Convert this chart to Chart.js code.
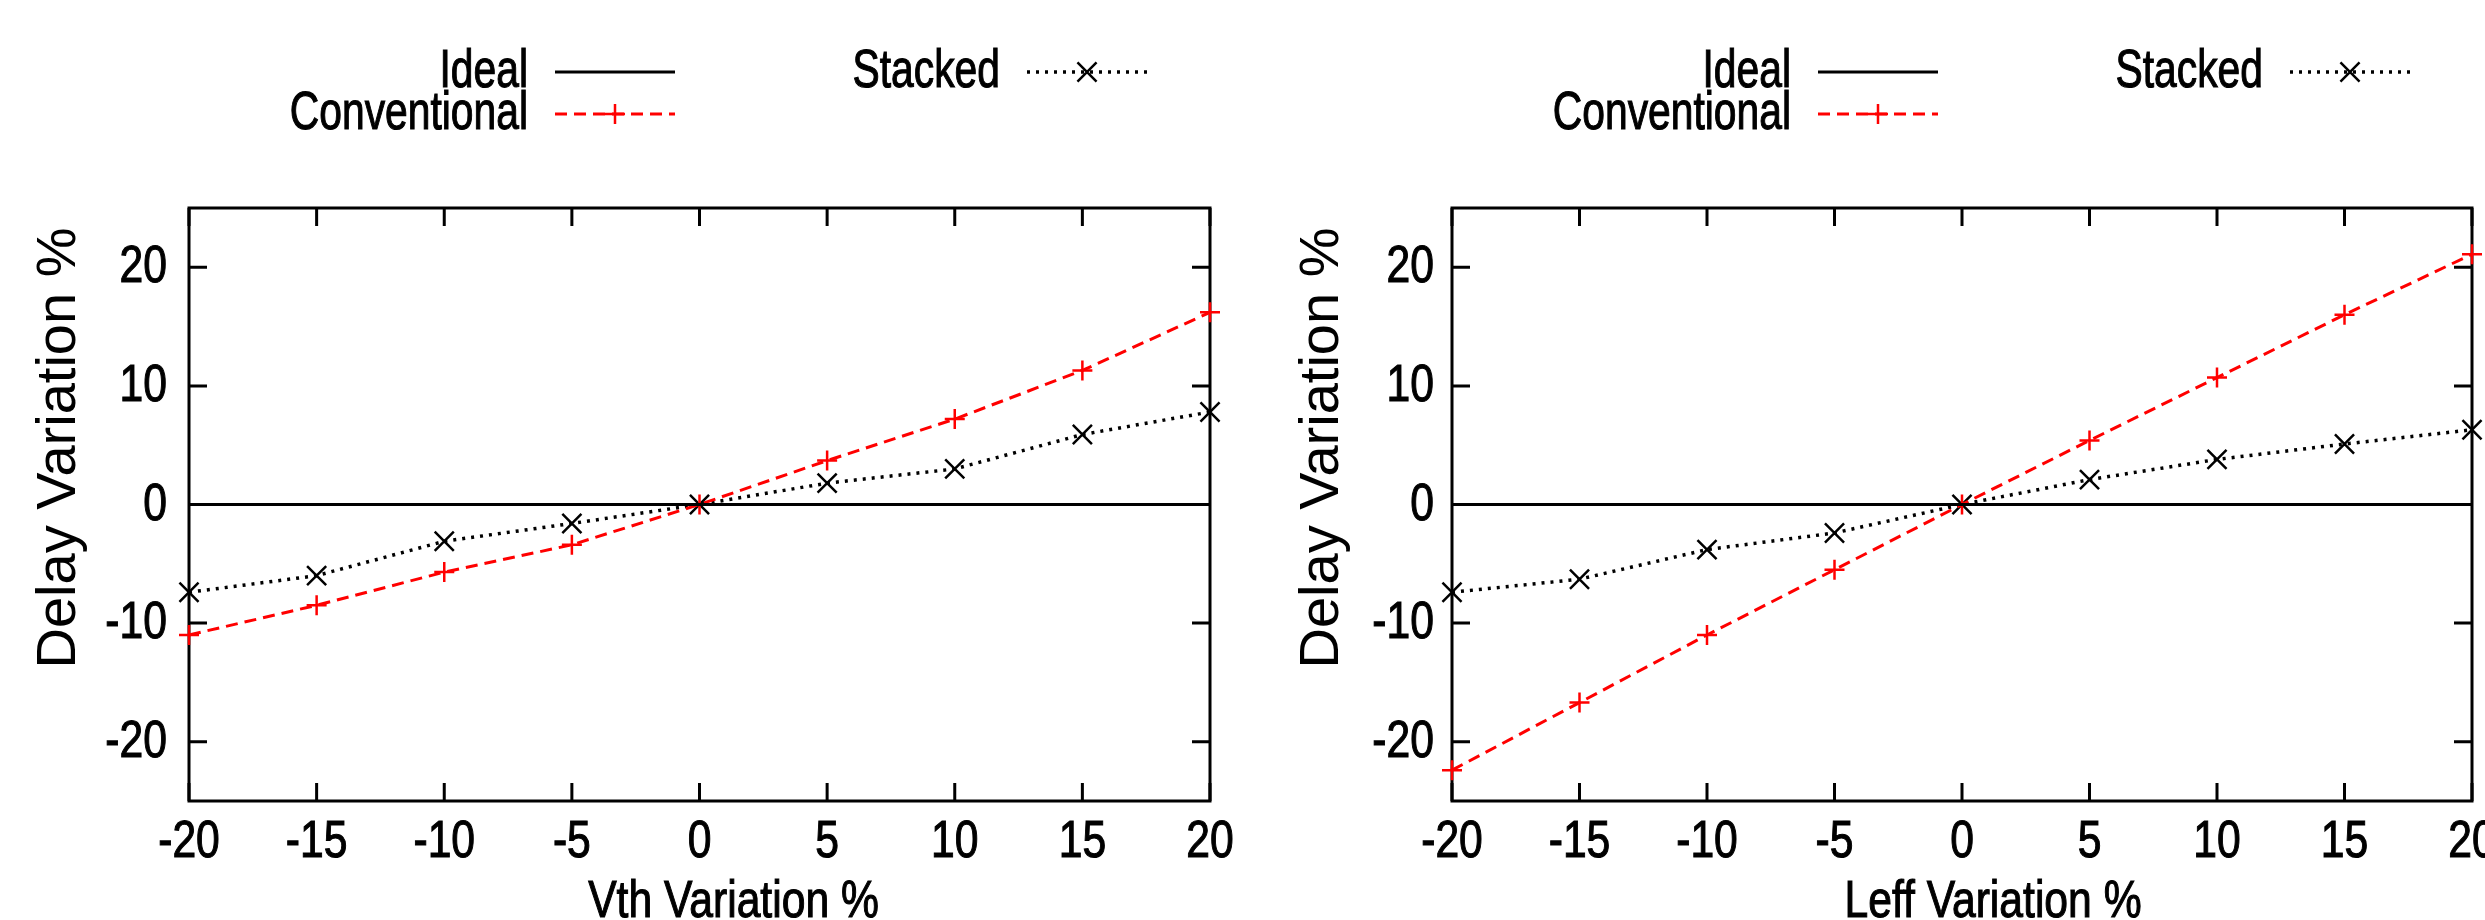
<!DOCTYPE html>
<html>
<head>
<meta charset="utf-8">
<script src="https://cdn.jsdelivr.net/npm/chart.js@4.4.1/dist/chart.umd.min.js"></script>
<style>
html, body { margin: 0; padding: 0; background: #fff; overflow: hidden; }
.panel { position: absolute; top: 0; height: 920px; }
#leftPanel { left: 0; width: 1242px; }
#rightPanel { left: 1242px; width: 1243px; }
</style>
</head>
<body>
<div class="panel" id="leftPanel"><canvas id="vthChart"></canvas></div>
<div class="panel" id="rightPanel"><canvas id="leffChart"></canvas></div>
<script>
// data
const variation = [-20, -15, -10, -5, 0, 5, 10, 15, 20];
const xTicks = [-20, -15, -10, -5, 0, 5, 10, 15, 20];
const yTicks = [-20, -10, 0, 10, 20];
const ideal = [0, 0, 0, 0, 0, 0, 0, 0, 0];
const vthConventional = [-11.0, -8.5, -5.7, -3.4, 0, 3.7, 7.2, 11.3, 16.2];
const vthStacked = [-7.4, -6.0, -3.1, -1.6, 0, 1.8, 3.0, 5.9, 7.8];
const leffConventional = [-22.4, -16.7, -11.0, -5.5, 0, 5.4, 10.7, 16.0, 21.1];
const leffStacked = [-7.4, -6.3, -3.8, -2.4, 0, 2.1, 3.8, 5.1, 6.3];
const seriesNames = ['Ideal', 'Conventional', 'Stacked'];

const FONT = "'Liberation Sans', Arial, Helvetica, sans-serif";

function pts(ys) {
    return variation.map((x, i) => ({ x: x, y: ys[i] }));
}

// gnuplot used a condensed helvetica, so squeeze the text sideways
function squeezed(ctx, text, x, y, size, k, align) {
    ctx.save();
    ctx.font = size + 'px ' + FONT;
    ctx.textAlign = align;
    ctx.textBaseline = 'alphabetic';
    ctx.translate(x, y);
    ctx.scale(k, 1);
    ctx.fillText(text, 0, 0);
    ctx.strokeStyle = ctx.fillStyle;
    ctx.lineWidth = 1.1;
    ctx.strokeText(text, 0, 0);
    ctx.restore();
}

function drawMarker(ctx, style, x, y, r) {
    ctx.beginPath();
    if (style === 'cross') {
        ctx.moveTo(x - r, y); ctx.lineTo(x + r, y);
        ctx.moveTo(x, y - r); ctx.lineTo(x, y + r);
    } else {
        const d = r * Math.SQRT1_2;
        ctx.moveTo(x - d, y - d); ctx.lineTo(x + d, y + d);
        ctx.moveTo(x - d, y + d); ctx.lineTo(x + d, y - d);
    }
    ctx.stroke();
}

const gnuplotLook = {
    id: 'gnuplotLook',
    beforeDatasetsDraw(chart) {
        const { ctx, chartArea: a, scales: { x, y } } = chart;
        ctx.save();
        ctx.strokeStyle = '#000';
        ctx.lineWidth = 3;
        ctx.strokeRect(a.left, a.top, a.width, a.height);
        ctx.beginPath();
        xTicks.forEach(v => {
            const px = x.getPixelForValue(v);
            ctx.moveTo(px, a.bottom); ctx.lineTo(px, a.bottom - 18);
            ctx.moveTo(px, a.top); ctx.lineTo(px, a.top + 18);
        });
        yTicks.forEach(v => {
            const py = y.getPixelForValue(v);
            ctx.moveTo(a.left, py); ctx.lineTo(a.left + 18, py);
            ctx.moveTo(a.right, py); ctx.lineTo(a.right - 18, py);
        });
        ctx.stroke();
        ctx.restore();
    },
    afterDraw(chart, args, opts) {
        const { ctx, chartArea: a, scales: { x, y } } = chart;
        ctx.save();
        ctx.fillStyle = '#000';

        // tick labels
        xTicks.forEach(v => squeezed(ctx, String(v), x.getPixelForValue(v), 857, 52, 0.82, 'center'));
        yTicks.forEach(v => squeezed(ctx, String(v), a.left - opts.yLabelGap, y.getPixelForValue(v) + 15, 52, 0.82, 'right'));

        // axis titles
        squeezed(ctx, opts.xTitle, (a.left + a.right) / 2 + opts.xTitleShift, 917, 52, 0.82, 'center');

        ctx.save();
        ctx.font = '56px ' + FONT;
        ctx.textAlign = 'center';
        ctx.textBaseline = 'alphabetic';
        ctx.translate(a.left - 114, 448);
        ctx.rotate(-Math.PI / 2);
        ctx.fillText(opts.yTitle, 0, 0);
        ctx.restore();

        // two column key at the top
        const rows = [
            { ds: 0, right: 339, y: 72 },
            { ds: 1, right: 339, y: 114 },
            { ds: 2, right: 811, y: 72 }
        ];
        rows.forEach(r => {
            const ds = chart.data.datasets[r.ds];
            const tx = a.left + r.right;
            ctx.fillStyle = '#000';
            squeezed(ctx, ds.label, tx, r.y + 15, 53, 0.77, 'right');
            const x0 = tx + 27, x1 = tx + 147;
            ctx.strokeStyle = ds.borderColor;
            ctx.lineWidth = ds.borderWidth;
            ctx.setLineDash(ds.borderDash || []);
            ctx.beginPath();
            ctx.moveTo(x0, r.y); ctx.lineTo(x1, r.y);
            ctx.stroke();
            ctx.setLineDash([]);
            if (ds.pointRadius > 0) {
                ctx.strokeStyle = ds.pointBorderColor;
                ctx.lineWidth = ds.pointBorderWidth;
                drawMarker(ctx, ds.pointStyle, (x0 + x1) / 2, r.y, ds.pointRadius);
            }
        });
        ctx.restore();
    }
};

function makeChart(canvasId, conventional, stacked, xTitle, yWidth, padRight, xShift, yGap) {
    return new Chart(document.getElementById(canvasId), {
        type: 'line',
        data: {
            datasets: [{
                label: seriesNames[0],
                data: pts(ideal),
                borderColor: '#000',
                borderWidth: 3,
                pointRadius: 0,
                clip: false
            }, {
                label: seriesNames[1],
                data: pts(conventional),
                borderColor: '#ff0000',
                borderWidth: 3,
                borderDash: [12, 7],
                pointStyle: 'cross',
                pointRadius: 10,
                pointBorderColor: '#ff0000',
                pointBorderWidth: 2.5,
                clip: false
            }, {
                label: seriesNames[2],
                data: pts(stacked),
                borderColor: '#000',
                borderWidth: 3.5,
                borderDash: [3, 6],
                pointStyle: 'crossRot',
                pointRadius: 13.5,
                pointBorderColor: '#000',
                pointBorderWidth: 2.5,
                clip: false
            }]
        },
        options: {
            responsive: true,
            maintainAspectRatio: false,
            animation: false,
            layout: { autoPadding: false, padding: { left: 0, top: 208, right: padRight, bottom: 0 } },
            plugins: {
                legend: { display: false },
                tooltip: { enabled: false },
                gnuplotLook: { xTitle: xTitle, yTitle: 'Delay Variation %', xTitleShift: xShift, yLabelGap: yGap }
            },
            scales: {
                x: {
                    type: 'linear',
                    min: -20,
                    max: 20,
                    grid: { display: false, drawTicks: false },
                    border: { display: false },
                    afterBuildTicks: s => { s.ticks = xTicks.map(v => ({ value: v })); },
                    afterFit: s => { s.height = 119; s.paddingLeft = 0; s.paddingRight = 0; },
                    ticks: { display: false }
                },
                y: {
                    min: -25,
                    max: 25,
                    grid: { display: false, drawTicks: false },
                    border: { display: false },
                    afterBuildTicks: s => { s.ticks = yTicks.map(v => ({ value: v })); },
                    afterFit: s => { s.width = yWidth; s.paddingTop = 0; s.paddingBottom = 0; },
                    ticks: { display: false }
                }
            }
        },
        plugins: [gnuplotLook]
    });
}

makeChart('vthChart', vthConventional, vthStacked, 'Vth Variation %', 189, 32, 34, 22);
makeChart('leffChart', leffConventional, leffStacked, 'Leff Variation %', 210, 13, 31, 18);
</script>
</body>
</html>
